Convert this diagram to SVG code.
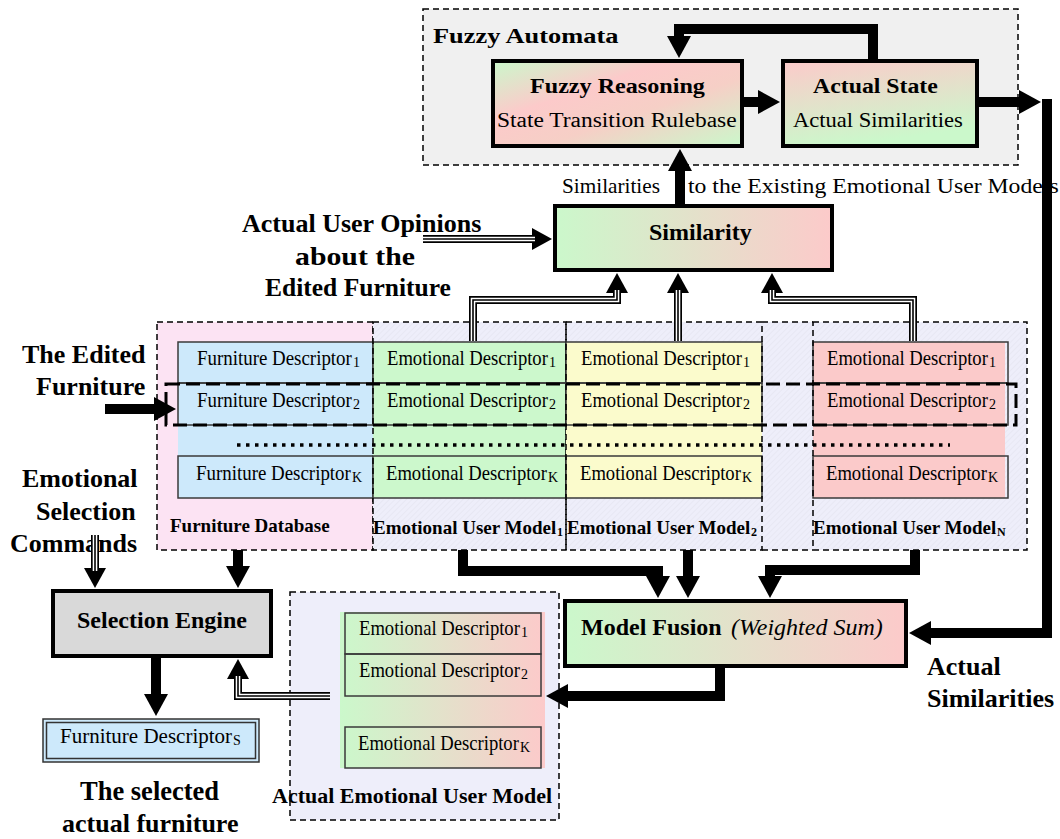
<svg xmlns="http://www.w3.org/2000/svg" width="1060" height="839" viewBox="0 0 1060 839" font-family="'Liberation Serif', 'Times New Roman', serif">
<style>
.b{font-weight:bold}
.desc{font-size:21px}
.sub{font-size:14px}
.lbl{font-weight:bold;font-size:26px}
.box{stroke:#000;stroke-width:4}
.cell{stroke:#3a3a3a;stroke-width:1.5}
.dash{fill:none;stroke:#000;stroke-width:1.5;stroke-dasharray:6 4}
.thick{fill:none;stroke:#000;stroke-width:10;stroke-linejoin:miter}
.t1{fill:none;stroke:#000;stroke-width:8;stroke-linejoin:miter}
.t2{fill:none;stroke:#fff;stroke-width:4.6;stroke-linejoin:miter}
.t3{fill:none;stroke:#000;stroke-width:1.6;stroke-linejoin:miter}
</style>
<defs>
<marker id="ah" viewBox="0 -12 22 24" refX="1" refY="0" markerWidth="22" markerHeight="24" markerUnits="userSpaceOnUse" orient="auto"><path d="M0,-12 L22,0 L0,12 z" fill="#000"/></marker>
<marker id="ah3" viewBox="0 -11 20 22" refX="1" refY="0" markerWidth="20" markerHeight="22" markerUnits="userSpaceOnUse" orient="auto"><path d="M0,-11 L20,0 L0,11 z" fill="#000"/></marker>
<linearGradient id="gh" x1="0" y1="0" x2="1" y2="0"><stop offset="0" stop-color="#cbf8cb"/><stop offset="1" stop-color="#fccaca"/></linearGradient>
<linearGradient id="gfr" x1="0" y1="0" x2="1" y2="1"><stop offset="0" stop-color="#cbf8cb"/><stop offset="0.35" stop-color="#fccaca"/><stop offset="0.6" stop-color="#f6cfc6"/><stop offset="1" stop-color="#cbf8cb"/></linearGradient>
<linearGradient id="gas" x1="0" y1="0" x2="0.3" y2="1"><stop offset="0" stop-color="#fccaca"/><stop offset="1" stop-color="#cbf8cb"/></linearGradient>
<pattern id="hatch" width="4" height="4" patternUnits="userSpaceOnUse" patternTransform="rotate(45)"><line x1="0" y1="0" x2="0" y2="4" stroke="#000" stroke-opacity="0.05" stroke-width="1"/></pattern>
</defs>

<g id="fuzzy-automata">
<rect x="423" y="9" width="595" height="156" fill="#f0f0f0"/>
<rect x="423" y="9" width="595" height="156" fill="url(#hatch)" class="dash"/>
<text transform="matrix(1.32 0 0 1 433 43)" class="b" font-size="20">Fuzzy Automata</text>
</g>
<g id="fuzzy-reasoning">
<rect x="493" y="61" width="249" height="85" fill="url(#gfr)" class="box"/>
<text transform="matrix(1.207 0 0 1 530 93)" class="b" font-size="20">Fuzzy Reasoning</text>
<text transform="matrix(1.173 0 0 1 497 127)" font-size="20">State Transition Rulebase</text>
</g>
<g id="actual-state">
<rect x="783" y="61" width="194" height="85" fill="url(#gas)" class="box"/>
<text transform="matrix(1.19 0 0 1 813 93)" class="b" font-size="20">Actual State</text>
<text transform="matrix(1.129 0 0 1 793 127)" font-size="20">Actual Similarities</text>
</g>
<g id="similarities-label">
<text transform="matrix(1.063 0 0 1 562 193)" font-size="20">Similarities</text>
<text transform="matrix(1.186 0 0 1 688 193)" font-size="20">to the Existing Emotional User Models</text>
</g>
<g id="similarity">
<rect x="555" y="206" width="277" height="64" fill="url(#gh)" class="box"/>
<text x="649" y="240" class="b" font-size="24">Similarity</text>
</g>
<g id="opinions-label">
<text x="242" y="232" class="lbl">Actual User Opinions</text>
<text transform="matrix(1.146 0 0 1 295 265)" class="lbl">about the</text>
<text x="265" y="296" class="b" font-size="25.5">Edited Furniture</text>
</g>
<g id="edited-label">
<text x="22" y="363" class="lbl">The Edited</text>
<text x="36" y="395" class="lbl">Furniture</text>
</g>
<g id="commands-label">
<text x="22" y="487" class="lbl">Emotional</text>
<text x="36" y="520" class="lbl">Selection</text>
<text x="10" y="552" class="lbl">Commands</text>
</g>

<g id="furniture-database">
<rect x="157" y="322" width="216" height="228" fill="#fce3f3"/>
<rect x="157" y="322" width="216" height="228" fill="url(#hatch)" class="dash"/>
<rect x="178" y="342" width="195" height="156" fill="#cde9fb"/>
<rect x="178" y="342" width="195" height="41" fill="none" class="cell"/>
<rect x="178" y="383" width="195" height="42" fill="none" class="cell"/>
<rect x="178" y="456" width="195" height="42" fill="none" class="cell"/>
<text transform="matrix(0.901 0 0 1 197 365)" class="desc">Furniture Descriptor</text><text x="353" y="367" class="sub">1</text>
<text transform="matrix(0.901 0 0 1 197 407)" class="desc">Furniture Descriptor</text><text x="353" y="409" class="sub">2</text>
<text transform="matrix(0.901 0 0 1 196 480)" class="desc">Furniture Descriptor</text><text x="352" y="482" class="sub">K</text>
<text x="170" y="532" class="b" font-size="19">Furniture Database</text>
</g>

<g id="models-bg">
<rect x="373" y="322" width="654" height="228" fill="#eeeefa"/>
<rect x="373" y="322" width="654" height="228" fill="url(#hatch)"/>
<line x1="762" y1="322" x2="813" y2="322" class="dash"/>
<line x1="762" y1="550" x2="813" y2="550" class="dash"/>
</g>
<g id="emotional-user-model-1">
<rect x="373" y="342" width="193" height="156" fill="#ccf8cc"/>
<rect x="373" y="342" width="193" height="41" fill="none" class="cell"/>
<rect x="373" y="383" width="193" height="42" fill="none" class="cell"/>
<rect x="373" y="456" width="193" height="42" fill="none" class="cell"/>
<text transform="matrix(0.8875 0 0 1 387 365)" class="desc">Emotional Descriptor</text><text x="549" y="367" class="sub">1</text>
<text transform="matrix(0.8875 0 0 1 387 407)" class="desc">Emotional Descriptor</text><text x="549" y="409" class="sub">2</text>
<text transform="matrix(0.8875 0 0 1 386 480)" class="desc">Emotional Descriptor</text><text x="548" y="482" class="sub">K</text>
<rect x="373" y="322" width="193" height="228" class="dash"/>
<text x="373" y="534" class="b" font-size="19">Emotional User Model</text><text x="557" y="536" class="b" font-size="12">1</text>
</g>
<g id="emotional-user-model-2">
<rect x="566" y="342" width="196" height="156" fill="#fbfbcc"/>
<rect x="566" y="342" width="196" height="41" fill="none" class="cell"/>
<rect x="566" y="383" width="196" height="42" fill="none" class="cell"/>
<rect x="566" y="456" width="196" height="42" fill="none" class="cell"/>
<text transform="matrix(0.8875 0 0 1 581 365)" class="desc">Emotional Descriptor</text><text x="743" y="367" class="sub">1</text>
<text transform="matrix(0.8875 0 0 1 581 407)" class="desc">Emotional Descriptor</text><text x="743" y="409" class="sub">2</text>
<text transform="matrix(0.8875 0 0 1 580 480)" class="desc">Emotional Descriptor</text><text x="742" y="482" class="sub">K</text>
<rect x="566" y="322" width="196" height="228" class="dash"/>
<text x="567" y="534" class="b" font-size="19">Emotional User Model</text><text x="751" y="536" class="b" font-size="12">2</text>
</g>
<g id="emotional-user-model-n">
<rect x="813" y="342" width="192" height="156" fill="#fbcaca"/>
<rect x="813" y="342" width="195" height="41" fill="none" class="cell"/>
<rect x="813" y="383" width="195" height="42" fill="none" class="cell"/>
<rect x="813" y="456" width="195" height="42" fill="none" class="cell"/>
<text transform="matrix(0.8875 0 0 1 827 365)" class="desc">Emotional Descriptor</text><text x="989" y="367" class="sub">1</text>
<text transform="matrix(0.8875 0 0 1 827 407)" class="desc">Emotional Descriptor</text><text x="989" y="409" class="sub">2</text>
<text transform="matrix(0.8875 0 0 1 826 480)" class="desc">Emotional Descriptor</text><text x="988" y="482" class="sub">K</text>
<rect x="813" y="322" width="214" height="228" class="dash"/>
<text x="813" y="534" class="b" font-size="19">Emotional User Model</text><text x="997" y="536" class="b" font-size="12">N</text>
</g>
<g id="row-markers">
<rect x="166" y="384" width="850" height="41" fill="none" stroke="#000" stroke-width="3" stroke-dasharray="14 6"/>
<line x1="237" y1="445" x2="950" y2="445" stroke="#000" stroke-width="3.5" stroke-dasharray="3.5 5.5"/>
</g>

<g id="model-fusion">
<rect x="565" y="601" width="341" height="65" fill="url(#gh)" class="box"/>
<text x="581" y="635" class="b" font-size="24">Model Fusion</text>
<text x="731" y="635" font-style="italic" font-size="24">(Weighted Sum)</text>
</g>
<g id="actual-similarities-label">
<text x="927" y="675" class="lbl">Actual</text>
<text x="927" y="707" class="lbl">Similarities</text>
</g>
<g id="selection-engine">
<rect x="53" y="591" width="218" height="65" fill="#d9d9d9" class="box"/>
<text x="77" y="628" class="b" font-size="24">Selection Engine</text>
</g>
<g id="selected-furniture">
<rect x="43" y="719" width="216" height="43" fill="#cde9fb" stroke="#333" stroke-width="1.5"/>
<rect x="46.5" y="722.5" width="209" height="36" fill="none" stroke="#333" stroke-width="1.5"/>
<text x="60" y="743" font-size="21">Furniture Descriptor</text><text x="233" y="745" font-size="14">S</text>
<text x="80" y="800" class="b" font-size="26.5">The selected</text>
<text x="62" y="832" class="lbl">actual furniture</text>
</g>
<g id="actual-emotional-user-model">
<rect x="290" y="592" width="269" height="228" fill="#eeeefa"/>
<rect x="290" y="592" width="269" height="228" fill="url(#hatch)" class="dash"/>
<rect x="340" y="612" width="205" height="156" fill="url(#gh)"/>
<rect x="345" y="613" width="196" height="41" fill="none" class="cell"/>
<rect x="345" y="654" width="196" height="42" fill="none" class="cell"/>
<rect x="345" y="727" width="196" height="41" fill="none" class="cell"/>
<text transform="matrix(0.8875 0 0 1 359 635)" class="desc">Emotional Descriptor</text><text x="521" y="637" class="sub">1</text>
<text transform="matrix(0.8875 0 0 1 359 677)" class="desc">Emotional Descriptor</text><text x="521" y="679" class="sub">2</text>
<text transform="matrix(0.8875 0 0 1 358 750)" class="desc">Emotional Descriptor</text><text x="520" y="752" class="sub">K</text>
<text x="272" y="803" class="b" font-size="22">Actual Emotional User Model</text>
</g>

<g id="connectors">
<path class="thick" d="M744,102 H759" marker-end="url(#ah)"/>
<path class="thick" d="M873,59 V29 H679 V37" marker-end="url(#ah)"/>
<path class="thick" d="M979,102 H1020" marker-end="url(#ah)"/>
<path class="thick" d="M1047,99 V633 H930" marker-end="url(#ah)"/>
<path class="thick" d="M680,204 V170" marker-end="url(#ah)"/>
<path class="thick" d="M105,409 H155" marker-end="url(#ah)"/>
<path class="thick" d="M463,550 V571 H658 V577" marker-end="url(#ah)"/>
<path class="thick" d="M688,550 V577" marker-end="url(#ah)"/>
<path class="thick" d="M915,550 V570 H770 V577" marker-end="url(#ah)"/>
<path class="thick" d="M720,668 V696 H567" marker-end="url(#ah)"/>
<path class="thick" d="M238,550 V567" marker-end="url(#ah)"/>
<path class="thick" d="M156,658 V695" marker-end="url(#ah)"/>

<path class="t1" d="M423,239 H533" marker-end="url(#ah3)"/>
<path class="t2" d="M423,239 H535"/>
<path class="t3" d="M423,239 H535"/>

<path class="t1" d="M473,341 V300 H617 V292" marker-end="url(#ah3)"/>
<path class="t2" d="M473,341 V300 H617 V290"/>
<path class="t3" d="M473,341 V300 H617 V290"/>

<path class="t1" d="M678,341 V292" marker-end="url(#ah3)"/>
<path class="t2" d="M678,341 V290"/>
<path class="t3" d="M678,341 V290"/>

<path class="t1" d="M913,341 V300 H772 V292" marker-end="url(#ah3)"/>
<path class="t2" d="M913,341 V300 H772 V290"/>
<path class="t3" d="M913,341 V300 H772 V290"/>

<path class="t1" d="M95,535 V569" marker-end="url(#ah3)"/>
<path class="t2" d="M95,535 V571"/>
<path class="t3" d="M95,535 V571"/>

<path class="t1" d="M330,696 H238 V678" marker-end="url(#ah3)"/>
<path class="t2" d="M330,696 H238 V676"/>
<path class="t3" d="M330,696 H238 V676"/>
</g>
</svg>
